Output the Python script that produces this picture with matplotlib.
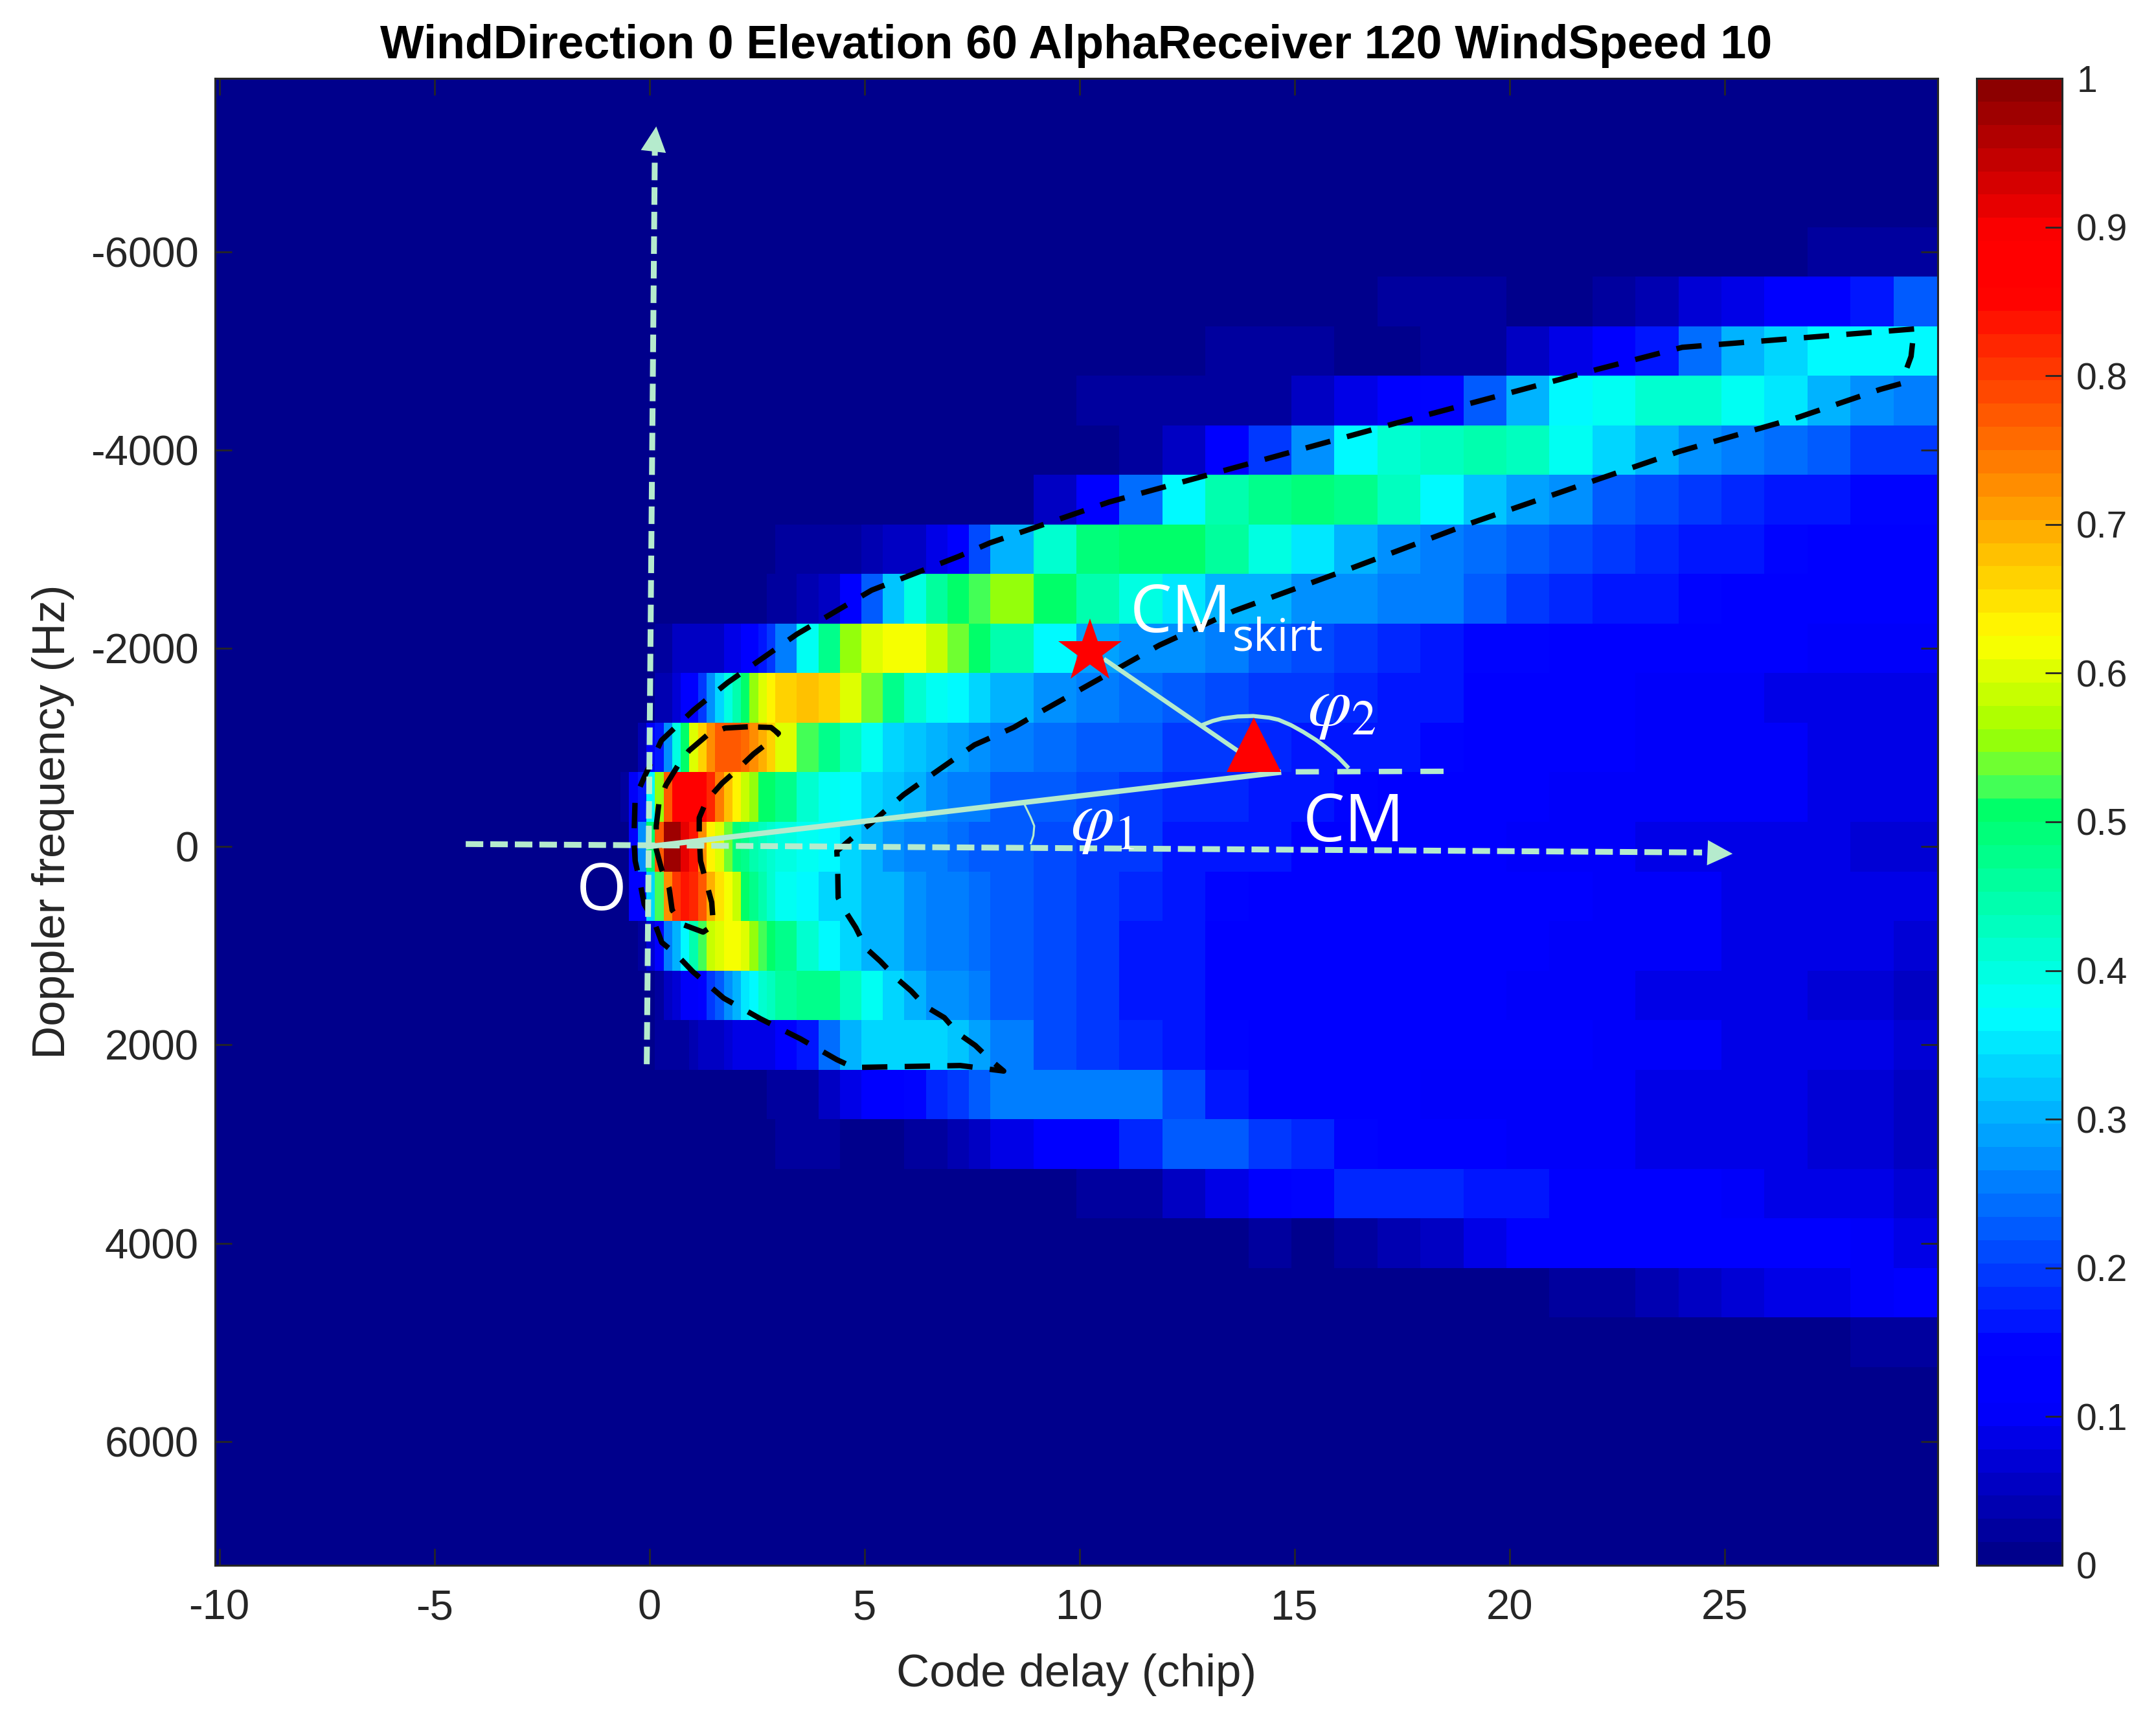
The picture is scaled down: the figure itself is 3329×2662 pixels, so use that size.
import numpy as np
import matplotlib
matplotlib.use('Agg')
import matplotlib.pyplot as plt
from matplotlib.colors import LinearSegmentedColormap

plt.rcParams['font.family'] = ['Liberation Sans', 'DejaVu Sans']
plt.rcParams['axes.unicode_minus'] = False
plt.rcParams['mathtext.fontset'] = 'stix'

# delay grid (chip): fine near the origin, coarser further out
delay_edges = [-0.8, -0.6, -0.4, -0.2, 0, 0.2, 0.4, 0.6, 0.8, 1, 1.2, 1.4, 1.6, 1.8, 2, 2.2, 2.4, 2.6, 2.8,
               3, 3.5, 4, 4.5, 5, 5.5, 6, 6.5, 7, 7.5, 8,
               9, 10, 11, 12, 13, 14, 15, 16, 17, 18, 19, 20, 21, 22, 23, 24, 25, 26, 27, 28, 29, 30.2]
doppler_rows = [-6000, -5500, -5000, -4500, -4000, -3500, -3000, -2500, -2000, -1500, -1000, -500,
                0, 500, 1000, 1500, 2000, 2500, 3000, 3500, 4000, 4500, 5000]

row_n6000 = [0] * 29 + [0, 0, 0, 0, 0, 0, 0, 0, 0, 0, 0, 0, 0, 0, .015, .005, 0, 0, 0, .02, .02, .03]
row_n5500 = [0] * 29 + [0, 0, 0, 0, 0, 0, 0, 0, 0, .02, .02, .02, .01, .01, .03, .04, .07, .09, .11, .13, .17, .23]
row_n5000 = [0] * 29 + [0, 0, 0, 0, 0, .02, .02, .02, .01, .01, .03, .03, .06, .09, .12, .17, .24, .3, .34, .36, .37, .37]
row_n4500 = [0] * 29 + [0, 0, .02, .02, .02, .03, .03, .06, .09, .11, .15, .23, .31, .37, .39, .42, .41, .39, .35, .3, .27, .25]
row_n4000 = [0] * 29 + [0, .01, .01, .03, .06, .11, .19, .27, .36, .41, .43, .44, .43, .39, .34, .3, .27, .26, .24, .22, .2, .19]
row_n3500 = [0] * 28 + [.01] + [.01, .05, .13, .24, .36, .44, .48, .49, .47, .43, .36, .32, .29, .27, .23, .21, .19, .18, .17, .16, .15, .15]
row_n3000 = [0] * 4 + [.01] * 15 + [.02, .02, .03, .03, .04, .05, .06, .09, .14, .21] + [.31, .42, .49, .5, .5, .46, .4, .35, .31, .28, .26, .24, .23, .21, .2, .18, .17, .16, .15, .13, .12, .12]
row_n2500 = [0] * 5 + [.01] * 13 + [.02] + [.03, .04, .06, .14, .23, .32, .4, .46, .5, .53] + [.56, .5, .45, .4, .35, .31, .3, .28, .27, .26, .25, .22, .2, .18, .17, .16, .15, .14, .13, .12, .11, .11]
row_n2000 = [0, 0, 0, 0, 0, .02, .02, .05, .05, .05, .05, .05, .06, .08, .08, .11, .12, .17, .19] + [.25, .39, .47, .56, .6, .62, .61, .58, .54, .5] + [.44, .36, .29, .28, .27, .25, .23, .21, .2, .18, .17, .15, .15, .14, .14, .13, .12, .11, .11, .1, .1, .1]
row_n1500 = [0, 0, 0, 0, 0, .04, .04, .07, .11, .11, .2, .28, .34, .4, .44, .5, .55, .6, .63] + [.66, .68, .66, .6, .54, .47, .42, .39, .36, .34] + [.31, .28, .26, .24, .23, .21, .2, .19, .18, .17, .16, .14, .13, .12, .11, .1, .1, .1, .09, .09, .09, .09]
row_n1000 = [0, 0, 0, .04, .1, .17, .28, .4, .5, .6, .66, .72, .77, .78, .78, .76, .72, .7, .66] + [.6, .53, .47, .43, .38, .33, .32, .31, .29, .28] + [.26, .24, .23, .22, .2, .19, .18, .17, .17, .16, .15, .13, .12, .11, .11, .1, .1, .1, .1, .09, .09, .08]
row_n500 = [0, .03, .1, .17, .36, .55, .77, .87, .88, .88, .88, .82, .74, .68, .63, .58, .55, .5, .5] + [.47, .42, .39, .37, .34, .32, .3, .28, .26, .25] + [.23, .22, .21, .19, .18, .18, .17, .16, .15, .14, .12, .12, .11, .1, .1, .1, .1, .1, .1, .09, .09, .08]
row_0 = [0, 0, .12, .27, .5, .78, .97, .97, .92, .84, .72, .63, .6, .54, .49, .47, .45, .43, .42] + [.4, .38, .36, .33, .3, .28, .26, .25, .24, .23] + [.22, .21, .2, .19, .17, .16, .16, .14, .14, .12, .11, .11, .1, .1, .1, .09, .09, .09, .08, .08, .07, .07]
row_p500 = [0, .01, .11, .14, .33, .53, .72, .8, .84, .82, .77, .7, .65, .62, .58, .5, .47, .44, .42] + [.39, .36, .34, .33, .31, .3, .28, .26, .25, .24] + [.23, .21, .19, .18, .17, .15, .13, .12, .12, .12, .12, .11, .11, .11, .1, .1, .1, .09, .09, .08, .08, .08]
row_p1000 = [0, 0, 0, .03, .07, .13, .25, .31, .37, .45, .53, .58, .6, .62, .62, .6, .56, .53, .5] + [.47, .42, .37, .34, .31, .3, .28, .26, .25, .24] + [.23, .21, .19, .17, .16, .14, .12, .12, .11, .11, .11, .11, .11, .1, .1, .1, .1, .09, .09, .08, .08, .07]
row_p1500 = [0, 0, 0, 0, .01, .03, .05, .07, .1, .1, .14, .2, .23, .28, .31, .35, .37, .41, .43] + [.46, .48, .47, .43, .38, .33, .3, .28, .27, .25] + [.23, .21, .19, .17, .16, .14, .12, .12, .11, .11, .11, .11, .1, .1, .1, .09, .09, .08, .08, .07, .07, .06]
row_p2000 = [0, 0, 0, 0, 0, .02, .02, .02, .02, .04, .05, .05, .06, .07, .08, .08, .09, .09, .09] + [.12, .17, .24, .3, .34, .34, .34, .33, .32, .29] + [.25, .21, .2, .18, .16, .15, .11, .11, .11, .11, .11, .11, .11, .11, .1, .1, .1, .09, .09, .08, .08, .07]
row_p2500 = [0] * 9 + [.01] * 9 + [.02] + [.02, .03, .05, .08, .11, .12, .15, .18, .2, .23] + [.26, .26, .26, .25, .21, .17, .14, .11, .11, .11, .1, .1, .1, .1, .1, .09, .09, .08, .08, .07, .07, .06]
row_p3000 = [0] * 15 + [.005] * 4 + [.02, .02, .02, .01, .01, .01, .03, .03, .04, .05] + [.09, .11, .14, .18, .22, .22, .2, .18, .15, .13, .12, .11, .1, .1, .1, .09, .09, .08, .08, .07, .07, .06]
row_p3500 = [0] * 29 + [0, .01, .02, .03, .05, .08, .11, .15, .18, .18, .18, .16, .16, .11, .11, .11, .11, .1, .09, .09, .08, .07]
row_p4000 = [0] * 29 + [0, 0, 0, 0, 0, 0, .02, .015, .03, .04, .06, .09, .11, .11, .11, .11, .11, .11, .11, .11, .1, .09]
row_p4500 = [0] * 29 + [0] * 11 + [.015, .015, .03, .03, .04, .05, .07, .08, .08, .1, .11]
row_p5000 = [0] * 29 + [0] * 18 + [.015, .015, .025, .025]

# dashed contours, (delay chip, doppler Hz)
outer_delay = [29.48, 24.09, 22.12, 20.23, 17.46, 13.67, 10.76, 7.99, 7.26, 5.24, 3.5, 1.89, 1.1, .35, -.05, -.26,
               -.29, -.26, -.15, -.05, .17, .36, .69, 1.08, 1.8, 2.66, 3.58, 4.43, 4.82, 7.3, 8.31, 8.02, 7.65, 7.26,
               6.93, 6.49, 6.16, 5.83, 5.44, 5.11, 4.87, 4.63, 4.46, 4.45, 4.43, 4.87, 5.24, 5.98, 6.82, 7.63, 8.54,
               9.06, 11.93, 13.67, 16.44, 19.2, 22.12, 24.01, 26.79, 28.69, 29.18, 29.41, 29.48]
outer_doppler = [-5222, -5037, -4815, -4595, -4275, -3822, -3476, -3064, -2927, -2587, -2143, -1655, -1378, -1071,
                 -699, -490, -72, 144, 353, 581, 745, 967, 1084, 1261, 1529, 1738, 1938, 2149, 2228, 2208, 2264, 2159,
                 2006, 1888, 1725, 1611, 1457, 1333, 1156, 1026, 817, 653, 516, 235, 46, -118, -242, -523, -781, -1026,
                 -1202, -1333, -2032, -2378, -2816, -3267, -3704, -3985, -4331, -4612, -4671, -4946, -5222]
inner_delay = [2.36, 1.83, 1.43, .99, .75, .45, .29, .23, .23, .35, .53, .6, .84, 1.32, 1.56, 1.52, 1.4, 1.26, 1.23,
               1.23, 1.4, 1.76, 2.1, 2.49, 2.84, 3.07, 2.9, 2.36]
inner_doppler = [-1209, -1196, -1130, -967, -830, -617, -431, -209, 26, 222, 418, 640, 784, 862, 794, 562, 372, 144,
                 -105, -291, -464, -640, -771, -934, -1052, -1143, -1202, -1209]

# annotation geometry in data units
h_axis_delay = [-4.2, 24.55]
h_axis_doppler = [-26, 59]
v_axis_delay = [.01, .2]
v_axis_doppler = [2195, -7150]
cm_delay, cm_doppler = 14.12, -1026
skirt_delay, skirt_doppler = 10.31, -1966
o_cm_delay = [.05, 14.7]
o_cm_doppler = [0, -748]
cm_ext_delay = [15.1, 18.63]
cm_ext_doppler = [-755, -760]
skirt_line_delay = [10.68, 13.75]
skirt_line_doppler = [-1881, -967]
phi1_delay = [8.78, 8.94, 9.02, 9.0, 8.94]
phi1_doppler = [-438, -294, -209, -111, -33]
phi2_delay = [12.95, 13.17, 13.39, 13.75, 14.11, 14.48, 14.7, 14.99, 15.28, 15.57, 15.79, 16.08, 16.3]
phi2_doppler = [-1231, -1268, -1293, -1313, -1318, -1301, -1280, -1226, -1156, -1077, -1006, -905, -806]

title = 'WindDirection 0 Elevation 60 AlphaReceiver 120 WindSpeed 10'
W, H = 3330, 2662
GREEN = '#B5EBCD'
TEXT = '#262626'
DELAY_SHIFT = -.07  # tick 0 sits a little right of the traced origin

power = np.vstack([row_n6000, row_n5500, row_n5000, row_n4500, row_n4000, row_n3500, row_n3000, row_n2500,
                   row_n2000, row_n1500, row_n1000, row_n500, row_0, row_p500, row_p1000, row_p1500, row_p2000,
                   row_p2500, row_p3000, row_p3500, row_p4000, row_p4500, row_p5000])
doppler_edges = np.append(np.array(doppler_rows) - 250, doppler_rows[-1] + 250)

# the reference colour bar: jet with a step just above 0.5
jet = LinearSegmentedColormap.from_list('ref_jet', [
    (0, (0, 0, .55)), (.10, (0, 0, 1)), (.14, (0, 0, 1)), (.37, (0, 1, 1)),
    (.515, (0, 1, .38)), (.525, (.3, 1, .33)), (.56, (.62, 1, 0)), (.625, (1, 1, 0)),
    (.86, (1, 0, 0)), (.9, (1, 0, 0)), (1, (.55, 0, 0))], N=64)


def box(x0, x1):
    return [x0 / W, 1 - 2417 / H, (x1 - x0) / W, (2417 - 121) / H]


def dx(values):
    return np.asarray(values) + DELAY_SHIFT


fig = plt.figure(figsize=(W / 100, H / 100), dpi=100)
ax = fig.add_axes(box(332, 2992))
ax.set_facecolor(jet(0))
mesh = ax.pcolormesh(dx(delay_edges), doppler_edges, power, cmap=jet, vmin=0, vmax=1, shading='flat', antialiased=False)
ax.set_xlim(-10.1, 29.96)
ax.set_ylim(7250, -7750)
ax.set_xticks(np.arange(-10, 26, 5))
ax.set_yticks(np.arange(-6000, 6001, 2000))
ax.tick_params(direction='in', top=True, right=True, length=19, width=2, color=TEXT, labelcolor=TEXT, labelsize=47)
ax.tick_params(axis='x', pad=26)
ax.tick_params(axis='y', pad=18)
for s in ax.spines.values():
    s.set_linewidth(2.2)
    s.set_color(TEXT)
ax.set_xlabel('Code delay (chip)', fontsize=51, color=TEXT, labelpad=29)
ax.set_ylabel('Doppler frequency (Hz)', fontsize=51, color=TEXT, labelpad=18)
ax.set_title(title, fontsize=51.7, fontweight='bold', color='black', pad=22)

contour = dict(color='black', lw=6, linestyle=(0, (4.7, 3.2)), dash_capstyle='butt')
ax.plot(dx(outer_delay), outer_doppler, **contour)
ax.plot(dx(inner_delay), inner_doppler, **contour)

axis_line = dict(color=GREEN, lw=6.5, linestyle=(0, (3, 1.2)), dash_capstyle='butt')
ax.plot(dx(h_axis_delay), h_axis_doppler, **axis_line)
ax.plot(dx(v_axis_delay), v_axis_doppler, **axis_line)
head = dict(arrowstyle='-|>,head_length=1,head_width=.5', mutation_scale=28, color=GREEN, lw=0, shrinkA=0, shrinkB=0)
ax.annotate('', xy=(25.19, 72), xytext=(dx(h_axis_delay)[1], h_axis_doppler[1]), arrowprops=head)
ax.annotate('', xy=(.16, -7265), xytext=(dx(v_axis_delay)[1], v_axis_doppler[1]), arrowprops=head)

ax.plot(dx(o_cm_delay), o_cm_doppler, color=GREEN, lw=6)
ax.plot(dx(cm_ext_delay), cm_ext_doppler, color=GREEN, lw=6, linestyle=(0, (4.3, 3.4)), dash_capstyle='butt')
ax.plot(dx(skirt_line_delay), skirt_line_doppler, color=GREEN, lw=5)
ax.plot(dx(phi1_delay), phi1_doppler, color=GREEN, lw=2.2)
ax.plot(dx(phi2_delay), phi2_doppler, color=GREEN, lw=4.5)

ax.plot(dx(cm_delay), cm_doppler, '^', color='red', ms=61, mew=0)
ax.plot(dx(skirt_delay), skirt_doppler, '*', color='red', ms=74, mew=0)

label = dict(color='white', family=['Open Sans', 'DejaVu Sans'], va='baseline')
ax.text(15.2, -52, 'CM', fontsize=74, **label)
ax.text(11.18, -2162, 'CM', fontsize=74, **label)
ax.text(13.55, -1980, 'skirt', fontsize=50, **label)
ax.text(-1.7, 640, 'O', fontsize=72, **label)
ax.text(9.8, -70, r'$\varphi_1$', color='white', fontsize=78, va='baseline')
ax.text(15.3, -1222, r'$\varphi_2$', color='white', fontsize=78, va='baseline')

cax = fig.add_axes(box(3052, 3184))
cbar = fig.colorbar(mesh, cax=cax)
cbar.set_ticks(np.arange(0, 1.01, .1))
cbar.set_ticklabels(['0', '0.1', '0.2', '0.3', '0.4', '0.5', '0.6', '0.7', '0.8', '0.9', '1'])
cax.tick_params(direction='in', length=19, width=2, color=TEXT, labelcolor=TEXT, labelsize=41, pad=16)
cbar.outline.set_linewidth(2.2)
cbar.outline.set_edgecolor(TEXT)

fig.savefig('out.png', dpi=100)
